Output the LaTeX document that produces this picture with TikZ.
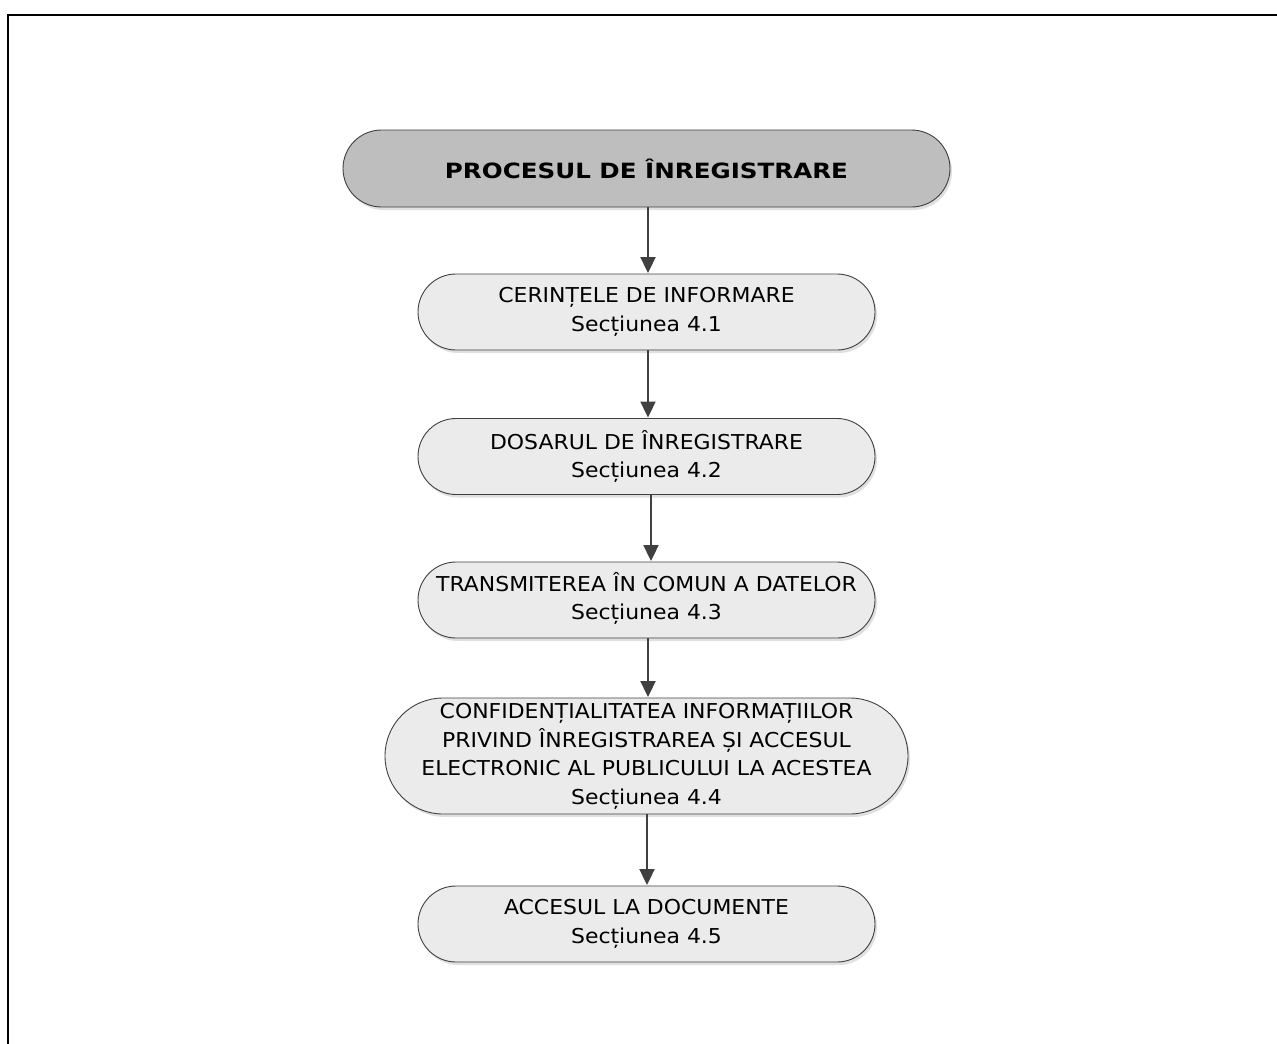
\documentclass[tikz,border=0pt]{standalone}
\usepackage{fontspec}
\setmainfont[FakeStretch=1.07]{DejaVu Sans}
\newfontfamily\headfont[FakeStretch=1.17]{DejaVu Sans}
\usetikzlibrary{arrows.meta,shapes.misc,shadows}
\definecolor{edgegray}{HTML}{404040}
\definecolor{headfill}{HTML}{BEBEBE}
\definecolor{boxfill}{HTML}{EBEBEB}
% centred lines that do not widen the shape around them
\newcommand{\flatlines}[1]{\makebox[0pt][c]{\begin{tabular}{@{}c@{}}#1\end{tabular}}}
\tikzset{
  stadium/.style={rounded rectangle, draw=edgegray, line width=0.9pt,
    align=center, inner sep=0pt, font=\fontsize{20.5}{28.5}\selectfont,
    drop shadow={shadow xshift=2pt, shadow yshift=-3pt, fill=black!12, opacity=1}},
  headbox/.style={stadium, fill=headfill, minimum width=607pt, minimum height=77pt,
    font=\headfont\fontsize{21}{28}\selectfont\bfseries},
  stepbox/.style={stadium, fill=boxfill, minimum width=457pt, minimum height=76pt},
  widebox/.style={stadium, fill=boxfill, minimum width=523pt, minimum height=116pt},
  flow/.style={draw=edgegray, line width=2pt,
    -{Triangle[length=16pt,width=15pt]}, shorten >=0.5pt}
}
\begin{document}
\begin{tikzpicture}[x=1pt,y=-1pt]
  \useasboundingbox (0,0) rectangle (1277,1044);
  % outer frame (top and left edges)
  \draw[line width=2.2pt, black] (8,1044) -- (8,15) -- (1277,15);

  \node[headbox] (h) at (646.5,168.5) {PROCESUL DE ÎNREGISTRARE};
  \node[stepbox] (s1) at (646.5,312) {CERINȚELE DE INFORMARE\\Secțiunea 4.1};
  \node[stepbox] (s2) at (646.5,456.5) {DOSARUL DE ÎNREGISTRARE\\Secțiunea 4.2};
  \node[stepbox] (s3) at (646.5,600) {\flatlines{TRANSMITEREA ÎN COMUN A DATELOR\\Secțiunea 4.3}};
  \node[widebox] (s4) at (646.5,756) {\flatlines{CONFIDENȚIALITATEA INFORMAȚIILOR\\PRIVIND ÎNREGISTRAREA ȘI ACCESUL\\ELECTRONIC AL PUBLICULUI LA ACESTEA\\Secțiunea 4.4}};
  \node[stepbox] (s5) at (646.5,924) {ACCESUL LA DOCUMENTE\\Secțiunea 4.5};

  \draw[flow] (h.south -| 648,0) -- (s1.north -| 648,0);
  \draw[flow] (s1.south -| 648,0) -- (s2.north -| 648,0);
  \draw[flow] (s2.south -| 651,0) -- (s3.north -| 651,0);
  \draw[flow] (s3.south -| 648,0) -- (s4.north -| 648,0);
  \draw[flow] (s4.south -| 647,0) -- (s5.north -| 647,0);
\end{tikzpicture}
\end{document}
